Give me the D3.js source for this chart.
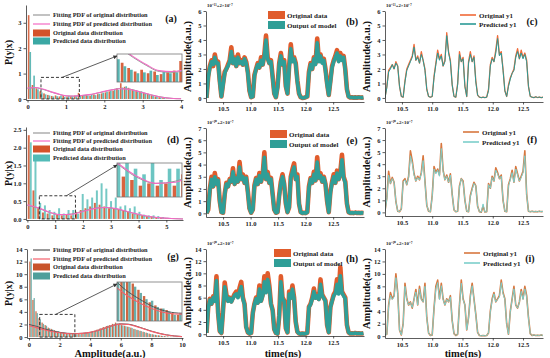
<!DOCTYPE html>
<html>
<head>
<meta charset="utf-8">
<script src="https://cdn.jsdelivr.net/npm/d3@7/dist/d3.min.js"></script>
<style>
body{margin:0;background:#fff;}
svg text{font-family:"Liberation Serif","Times New Roman",serif;font-weight:bold;}
.axis path,.axis line{stroke:#333;stroke-width:0.8;}
.axis text{font-size:6.5px;fill:#222;font-family:"Liberation Serif",serif;font-weight:bold;}
</style>
</head>
<body>
<script>
// time grids (ns)
var col2Start = 10.2, col3Start = 10.22, timeStep = 0.03;
var timeTicks = [10.5, 11.0, 11.5, 12.0, 12.5];

// (b) original data / output of model
var bOrig = [0,1.5,2.2,2.6,2.2,3.0,2.4,2.5,1.2,0.1, 1.0,1.8,2.0,2.3,2.6,3.5,2.4,2.8,2.2,3.0,
  2.4,2.6,2.3,2.8,2.5,1.8,0.5,0.05,0.1,1.6, 2.0,2.4,2.1,2.8,2.3,3.0,4.3,2.8,2.4,2.6,
  1.5,0.3,0.05,0.8,2.4,3.1,2.3,2.6,0.8,0.3, 2.2,3.7,2.6,2.8,2.4,1.2,0.3,0.05,0,0.02,
  0.05,0.1,1.8,2.4,2.0,2.8,2.4,4.1,2.6,3.0, 2.5,2.7,2.0,1.0,0.2,1.2,2.2,2.6,2.9,3.3,
  2.6,3.1,2.7,2.9,2.0,0.6,0.1,0.03,0.05,0.02, 0.04,0.02,0.05,0.03,0.02,0.04];
var bPred = [0,1.4,2.1,2.5,2.3,2.8,2.4,2.4,1.1,0.1, 0.9,1.7,2.0,2.2,2.5,3.2,2.4,2.7,2.2,2.8,
  2.4,2.5,2.3,2.7,2.4,1.7,0.5,0.05,0.1,1.5, 2.0,2.3,2.1,2.6,2.3,2.9,4.0,2.7,2.4,2.5,
  1.4,0.3,0.05,0.7,2.3,2.9,2.3,2.5,0.8,0.3, 2.1,3.4,2.5,2.7,2.3,1.1,0.3,0.05,0,0.02,
  0.05,0.1,1.7,2.3,2.0,2.7,2.3,3.8,2.5,2.9, 2.4,2.6,1.9,0.9,0.2,1.1,2.1,2.5,2.8,3.1,
  2.5,2.9,2.6,2.8,1.9,0.6,0.1,0.03,0.05,0.02, 0.04,0.02,0.05,0.03,0.02,0.04];

// (c) original y1 / predicted y1
var cOrig = [0,0.8,1.9,2.1,2.3,2.0,2.5,2.2,0.8,0.1, 0.05,1.2,2.0,2.3,2.6,2.9,3.7,2.6,2.9,2.4,
  3.2,2.6,2.0,0.6,0.1,0.05,0.1,1.5,2.4,3.3, 2.7,3.0,2.2,2.6,4.5,3.2,2.6,0.9,0.1,0.05,
  1.0,3.2,2.5,2.8,0.8,0.1,2.5,3.2,2.5,2.9, 1.2,0.2,0.05,0.02,0.05,0.02,0.05,0.6,2.3,2.8,
  2.5,3.3,4.3,3.0,3.2,2.0,0.5,0.1,0.9,1.4, 1.7,2.0,2.9,3.4,2.7,3.3,2.8,3.1,2.6,0.8,
  0.1,0.05,0.02,0.08,0.03,0.06,0.02,0.05];
var cPred = [0,0.7,1.8,2.0,2.3,2.0,2.4,2.2,0.8,0.1, 0.05,1.1,1.9,2.2,2.5,2.8,3.5,2.6,2.8,2.4,
  3.0,2.6,1.9,0.6,0.1,0.05,0.1,1.4,2.3,3.1, 2.6,2.9,2.2,2.5,4.3,3.1,2.5,0.9,0.1,0.05,
  0.9,3.0,2.5,2.7,0.8,0.1,2.4,3.0,2.5,2.8, 1.1,0.2,0.05,0.02,0.05,0.02,0.05,0.5,2.2,2.7,
  2.5,3.1,4.1,2.9,3.1,1.9,0.5,0.1,0.8,1.3, 1.7,1.9,2.8,3.2,2.7,3.1,2.7,3.0,2.5,0.8,
  0.1,0.05,0.02,0.08,0.03,0.06,0.02,0.05];

// (e)
var eOrig = [0,0.3,2.0,3.0,2.2,3.3,2.4,2.8,1.0,0.1, 0.05,1.6,2.5,2.2,2.8,2.6,3.7,2.4,3.0,2.6,
  4.2,2.8,3.2,2.5,3.0,1.8,0.4,0.05,0.3,2.3, 2.9,2.4,3.3,2.6,3.2,5.0,2.8,3.4,2.5,2.9,
  1.6,0.3,0.05,0.1,1.5,2.6,3.2,2.4,0.8,0.1, 0.5,3.0,3.6,4.1,2.8,3.2,0.8,0.1,0.02,0.05,
  0.02,0.1,2.2,2.9,2.5,3.4,2.7,4.6,2.9,3.3, 2.6,3.0,2.4,1.0,0.1,1.8,2.6,3.2,2.5,3.5,
  2.8,3.4,4.8,3.0,2.6,0.8,0.1,0.03,0.05,0.02, 0.06,0.03,0.05,0.02,0.04,0.03];
var ePred = [0,0.3,1.9,2.8,2.2,3.0,2.4,2.7,1.0,0.1, 0.05,1.5,2.4,2.2,2.7,2.6,3.4,2.4,2.9,2.6,
  3.8,2.8,3.0,2.5,2.9,1.7,0.4,0.05,0.3,2.2, 2.8,2.4,3.1,2.6,3.1,4.6,2.8,3.2,2.5,2.8,
  1.5,0.3,0.05,0.1,1.4,2.5,3.0,2.4,0.8,0.1, 0.5,2.9,3.4,3.8,2.8,3.0,0.8,0.1,0.02,0.05,
  0.02,0.1,2.1,2.8,2.5,3.2,2.7,4.2,2.9,3.1, 2.6,2.9,2.4,1.0,0.1,1.7,2.5,3.0,2.5,3.3,
  2.8,3.2,4.4,2.9,2.5,0.8,0.1,0.03,0.05,0.02, 0.06,0.03,0.05,0.02,0.04,0.03];

// (f)
var fOrig = [0.1,1.2,3.4,2.4,2.9,2.5,0.9,0.1,0.05,0.3, 2.6,2.8,2.3,3.0,5.1,4.3,3.2,2.6,3.0,2.7,
  3.3,4.7,2.6,0.6,0.1,0.05,1.4,3.8,3.3,3.6, 3.1,5.7,3.5,2.7,3.1,2.5,3.2,1.5,0.2,0.05,
  0.1,2.2,2.8,2.6,1.0,0.1,0.05,1.4,2.0,2.5, 2.2,0.5,0.05,0.02,0.5,0.03,0.05,2.4,2.0,3.0,
  2.6,3.7,3.3,2.8,3.1,1.0,0.1,0.05,2.3,2.8, 3.5,2.5,3.8,3.2,2.6,3.0,3.4,5.1,1.5,0.1,
  0.05,0.1,0.05,0.08,0.05,0.1,0.06,0.08];
var fPred = [0.1,1.1,3.1,2.4,2.8,2.5,0.9,0.1,0.05,0.3, 2.5,2.7,2.3,2.9,4.7,4.1,3.1,2.6,2.9,2.7,
  3.2,4.3,2.5,0.6,0.1,0.05,1.3,3.6,3.2,3.5, 3.0,5.3,3.4,2.7,3.0,2.5,3.1,1.5,0.2,0.05,
  0.1,2.1,2.8,2.5,1.0,0.1,0.05,1.3,1.9,2.4, 2.2,0.5,0.05,0.02,0.7,0.03,0.05,2.3,2.0,2.9,
  2.6,3.5,3.2,2.8,3.0,1.0,0.1,0.05,2.2,2.7, 3.3,2.5,3.6,3.1,2.6,2.9,3.3,4.7,1.5,0.1,
  0.05,0.1,0.05,0.08,0.05,0.1,0.06,0.08];

// (h)
var hOrig = [0.2,4.5,5.8,5.0,6.2,5.5,9.5,3.5,0.5,0.2, 4.0,8.5,6.5,5.5,6.0,5.4,6.0,6.6,7.0,6.2,
  7.6,8.6,6.0,5.0,1.2,0.3,0.1,0.2,3.5,5.0, 6.0,5.2,8.0,5.5,6.5,9.5,7.0,10.0,8.0,5.0,
  4.0,0.8,0.2,0.1,3.0,9.5,6.0,5.5,1.0,0.3, 7.0,6.0,8.0,6.0,2.0,0.4,0.1,0.05,0.1,0.05,
  0.1,0.2,4.5,5.0,6.0,7.5,6.0,6.5,5.8,9.0, 6.5,6.0,5.5,1.5,0.3,4.5,5.5,6.5,7.0,9.0,
  6.8,11.0,7.0,6.5,6.0,1.5,0.3,0.1,0.15,0.1, 0.2,0.1,0.15,0.1,0.1,0.15];
var hPred = [0.2,4.3,5.6,5.0,6.0,5.4,8.8,3.4,0.5,0.2, 3.8,7.8,6.3,5.4,5.9,5.3,5.9,6.4,6.6,6.0,
  7.0,7.8,5.8,4.9,1.2,0.3,0.1,0.2,3.4,4.9, 5.8,5.1,7.4,5.4,6.3,8.6,6.8,9.0,7.6,4.9,
  3.9,0.8,0.2,0.1,2.9,8.6,5.8,5.4,1.0,0.3, 6.6,5.9,7.4,5.8,2.0,0.4,0.1,0.05,0.1,0.05,
  0.1,0.2,4.4,4.9,5.8,7.0,5.9,6.3,5.7,8.2, 6.3,5.9,5.4,1.5,0.3,4.4,5.4,6.3,6.7,8.2,
  6.6,9.6,6.8,6.3,5.8,1.5,0.3,0.1,0.15,0.1, 0.2,0.1,0.15,0.1,0.1,0.15];

// (i)
var iOrig = [0.2,0.3,5.0,7.0,6.0,6.5,10.0,7.0,1.0,0.2, 2.0,8.5,6.0,5.0,5.5,4.5,6.0,7.5,5.0,8.0,
  6.0,5.5,8.5,3.0,0.5,0.1,0.2,4.5,8.0,9.0, 6.0,8.5,6.0,5.0,6.0,5.5,6.5,2.5,0.4,0.1,
  0.3,5.0,9.0,6.0,5.0,1.0,3.0,6.5,8.5,6.0, 3.5,0.6,0.1,0.05,0.1,0.05,0.1,0.5,4.0,6.0,
  7.0,5.5,6.0,6.5,9.0,7.0,6.0,2.0,0.3,4.0, 6.0,8.0,5.0,4.5,5.5,7.5,6.0,8.0,6.5,3.0,
  0.4,0.1,0.2,0.1,0.15,0.1,0.2,0.1];
var iPred = [0.2,0.3,4.8,6.6,5.9,6.3,9.4,6.8,1.0,0.2, 1.9,8.0,5.9,5.0,5.4,4.6,5.9,7.1,5.0,7.6,
  5.9,5.5,8.0,2.9,0.5,0.1,0.2,4.4,7.6,8.6, 5.9,8.1,5.9,5.0,5.9,5.5,6.3,2.5,0.4,0.1,
  0.3,4.9,8.5,5.9,5.0,1.0,2.9,6.3,8.1,5.9, 3.4,0.6,0.1,0.05,0.1,0.05,0.1,0.5,3.9,5.8,
  6.8,5.5,5.9,6.3,8.6,6.8,5.9,2.0,0.3,3.9, 5.9,7.6,5.0,4.5,5.4,7.2,5.9,7.6,6.3,2.9,
  0.4,0.1,0.2,0.1,0.15,0.1,0.2,0.1];

// (a) histogram, bins of 0.1
var aBin = 0.1;
var aOrig = [3.3,0.55,0.42,0.3,0.22,0.16,0.12,0.14,0.1,0.12, 0.09,0.11,0.13,0.24,0.12,0.15,0.13,0.17,0.19,0.22,
  0.26,0.3,0.33,0.42,0.62,0.48,0.44,0.38,0.34,0.28, 0.24,0.2,0.15,0.1,0.07,0.04,0.02,0.01,0.01,0];
var aPred = [1.85,0.92,0.38,0.26,0.18,0.14,0.1,0.11,0.13,0.08, 0.12,0.1,0.11,0.15,0.14,0.13,0.16,0.15,0.2,0.24,
  0.28,0.32,0.38,0.36,0.45,0.5,0.4,0.36,0.3,0.3, 0.22,0.18,0.14,0.11,0.06,0.05,0.02,0.01,0,0];
var aPdfX = [0,0.2,0.4,0.6,0.8,1.0,1.2,1.4,1.6,1.8,2.0,2.2,2.4,2.6,2.8,3.0,3.2,3.4,3.6,3.8,4.0];
var aPdfOrig = [0.42,0.44,0.38,0.28,0.19,0.12,0.11,0.13,0.16,0.22,0.29,0.36,0.41,0.4,0.34,0.25,0.17,0.1,0.05,0.02,0.01];
var aPdfPred = [0.43,0.45,0.39,0.29,0.2,0.13,0.12,0.14,0.17,0.23,0.3,0.36,0.4,0.39,0.33,0.25,0.17,0.1,0.05,0.02,0.01];

// (d) histogram, bins of 0.17
var dBin = 0.17;
var dOrig = [2.35,0.8,0.3,0.18,0.15,0.1,0.12,0.1,0.12,0.1,0.2,0.25,0.3,0.35,0.45,0.4,0.35,
  0.3,0.3,0.28,0.25,0.2,0.15,0.12,0.1,0.08,0.06,0.05,0.03,0.02,0.01,0,0];
var dPred = [2.15,1.7,0.45,0.38,0.25,0.2,0.3,0.15,0.25,0.25,0.15,0.7,0.55,0.6,0.8,1.0,0.85,
  0.5,0.6,0.35,0.38,0.3,0.35,0.2,0.12,0.1,0.1,0.08,0.05,0.03,0.02,0.01,0];
var dPdfX = [0,0.4,0.8,1.2,1.6,2.0,2.4,2.8,3.2,3.6,4.0,4.4,4.8,5.2,5.6];
var dPdfOrig = [0.38,0.3,0.18,0.12,0.14,0.22,0.3,0.32,0.28,0.2,0.12,0.06,0.03,0.01,0];
var dPdfPred = [0.4,0.31,0.19,0.12,0.13,0.21,0.29,0.32,0.29,0.21,0.13,0.07,0.03,0.01,0];

// (g) histogram, bins of 0.2
var gBin = 0.2;
var gOrig = [12.0,5.9,4.1,3.0,2.3,1.9,1.5,1.3,1.1,0.9, 0.8,0.7,0.65,0.55,0.5,0.45,0.5,0.55,0.6,0.7,
  0.8,1.0,1.2,1.4,1.6,1.75,1.9,2.1,2.3,2.0, 1.9,1.8,1.65,1.5,1.3,1.15,1.0,0.85,0.7,0.55,
  0.45,0.35,0.28,0.2,0.15,0.1,0.07,0.05,0.03,0.02];
var gPred = [12.5,6.2,3.8,2.8,2.1,1.8,1.4,1.2,1.0,0.95, 0.75,0.7,0.6,0.5,0.55,0.45,0.45,0.5,0.65,0.75,
  0.85,0.95,1.15,1.35,1.5,1.8,1.85,2.0,2.2,2.15, 1.85,1.7,1.6,1.45,1.25,1.1,0.95,0.8,0.65,0.5,
  0.4,0.3,0.25,0.18,0.12,0.08,0.06,0.04,0.02,0.01];
var gPdfX = [0,0.5,1,1.5,2,2.5,3,3.5,4,4.5,5,5.5,6,6.5,7,7.5,8,8.5,9,9.5,10];
var gPdfOrig = [2.0,1.7,1.3,1.0,0.75,0.6,0.55,0.6,0.75,1.05,1.45,1.85,2.1,2.05,1.75,1.35,0.95,0.6,0.35,0.18,0.08];
var gPdfPred = [1.8,1.5,1.15,0.88,0.68,0.55,0.52,0.58,0.75,1.05,1.45,1.85,2.05,2.0,1.7,1.3,0.9,0.58,0.33,0.17,0.07];

var histLabels = ['Fitting PDF of original distribution','Fitting PDF of predicted distribution',
  'Original data distribution','Predicted data distribution'];

var clipId = 0;
var addClip = function(svg,x0,y0,x1,y1){
    clipId++;
    svg.select('defs').append('clipPath').attr('id','clip'+clipId)
        .append('rect').attr('x',x0).attr('y',y0).attr('width',x1-x0).attr('height',y1-y0);
    return 'url(#clip'+clipId+')';
}

var drawAxes = function(svg,p,x,y){
    svg.append('g').attr('class','axis')
        .attr('transform','translate(0,'+p.bottom+')')
        .call(d3.axisBottom(x).tickValues(p.xTicks).tickSize(2.5).tickSizeOuter(0).tickPadding(2).tickFormat(p.xFmt));
    svg.append('g').attr('class','axis')
        .attr('transform','translate('+p.left+',0)')
        .call(d3.axisLeft(y).tickValues(p.yTicks).tickSize(2.5).tickSizeOuter(0).tickPadding(2).tickFormat(p.yFmt));
}

// each bin holds an orange bar (left) and a teal bar (right) with a small gap
var drawBars = function(g,x,y,vals,w,half,base,color,op){
    g.append('g').selectAll('rect').data(vals).enter().append('rect')
        .attr('x',function(d,i){return x(i*w + (half ? 0.5 : 0.08)*w);})
        .attr('width',x(w*0.42)-x(0))
        .attr('y',function(d){return y(Math.max(d,base));})
        .attr('height',function(d){return Math.max(0,y(base)-y(Math.max(d,base)));})
        .attr('fill',color).attr('opacity',op);
}

var drawPdf = function(g,x,y,p){
    var line = d3.line().curve(d3.curveMonotoneX)
        .x(function(d,i){return x(p.pdfX[i]);})
        .y(function(d){return y(d);});
    g.append('path').datum(p.pdfOrig).attr('d',line).attr('fill','none')
        .attr('stroke',p.pdfOrigColor).attr('stroke-width',1);
    g.append('path').datum(p.pdfPred).attr('d',line).attr('fill','none')
        .attr('stroke',p.pdfPredColor).attr('stroke-width',1.1);
}

var drawHist = function(svg,p){
    var x = d3.scaleLinear().domain(p.xDomain).range([p.left,p.right]);
    var y = d3.scaleLinear().domain(p.yDomain).range([p.bottom,p.top]);
    var g = svg.append('g').attr('clip-path',addClip(svg,p.left,p.top,p.right,p.bottom));
    drawBars(g,x,y,p.orig,p.bin,0,0,p.origColor,0.85);
    drawBars(g,x,y,p.pred,p.bin,1,0,p.predColor,0.8);
    drawPdf(g,x,y,p);
    drawAxes(svg,p,x,y);

    // zoom box
    var zx = p.zoomX, zy = p.zoomY;
    svg.append('rect').attr('x',x(zx[0])).attr('y',y(zy[1]))
        .attr('width',x(zx[1])-x(zx[0])).attr('height',y(zy[0])-y(zy[1]))
        .attr('fill','none').attr('stroke','#222').attr('stroke-width',0.9).attr('stroke-dasharray','3,2');

    // inset
    var ins = p.inset;
    var ix = d3.scaleLinear().domain(zx).range([ins[0],ins[2]]);
    var iy = d3.scaleLinear().domain(p.insetY).range([ins[3],ins[1]]);
    svg.append('rect').attr('x',ins[0]).attr('y',ins[1]).attr('width',ins[2]-ins[0]).attr('height',ins[3]-ins[1])
        .attr('fill','#fff');
    var ig = svg.append('g').attr('clip-path',addClip(svg,ins[0],ins[1],ins[2],ins[3]));
    drawBars(ig,ix,iy,p.orig,p.bin,0,p.insetY[0],p.origColor,0.9);
    drawBars(ig,ix,iy,p.pred,p.bin,1,p.insetY[0],p.predColor,0.85);
    drawPdf(ig,ix,iy,p);
    svg.append('rect').attr('x',ins[0]).attr('y',ins[1]).attr('width',ins[2]-ins[0]).attr('height',ins[3]-ins[1])
        .attr('fill','none').attr('stroke','#777').attr('stroke-width',0.8);

    // arrow
    svg.append('line')
        .attr('x1',x(zx[0]+(zx[1]-zx[0])*p.arrowFrom)).attr('y1',y(zy[1]))
        .attr('x2',ins[0]).attr('y2',ins[1]+2)
        .attr('stroke','#333').attr('stroke-width',0.8).attr('marker-end','url(#arrow)');

    // legend
    var lg = svg.append('g');
    histLabels.forEach(function(lab,i){
        var yy = p.legendY[i];
        if(i<2){
            lg.append('line').attr('x1',33).attr('x2',50).attr('y1',yy).attr('y2',yy)
                .attr('stroke',i==0?p.pdfOrigColor:p.pdfPredColor).attr('stroke-width',1.2);
        } else {
            lg.append('rect').attr('x',33).attr('y',yy-3.5).attr('width',17).attr('height',7)
                .attr('fill',i==2?p.origColor:p.predColor);
        }
        lg.append('text').attr('x',53).attr('y',yy+2.2).attr('font-size',6.3).attr('fill','#222').text(lab);
    });
    svg.append('text').attr('x',p.tagX).attr('y',p.tagY).attr('text-anchor','middle')
        .attr('font-size',10).attr('font-weight','normal').attr('fill','#111').text(p.tag);
    svg.append('text').attr('transform','translate(12,'+((p.top+p.bottom)/2)+') rotate(-90)')
        .attr('text-anchor','middle').attr('font-size',10).attr('fill','#111').text('P(y|x)');
}

var drawTime = function(svg,p){
    var x = d3.scaleLinear().domain(p.xDomain).range([p.left,p.right]);
    var y = d3.scaleLinear().domain(p.yDomain).range([p.bottom,p.top]);
    var line = d3.line()
        .x(function(d,i){return x(p.start + i*timeStep);})
        .y(function(d){return y(d);});
    var g = svg.append('g').attr('clip-path',addClip(svg,p.left,p.top-4,p.right,p.bottom));
    g.append('path').datum(p.orig).attr('d',line).attr('fill','none')
        .attr('stroke',p.origColor).attr('stroke-width',p.origWidth).attr('stroke-linejoin','round');
    g.append('path').datum(p.pred).attr('d',line).attr('fill','none')
        .attr('stroke',p.predColor).attr('stroke-width',p.predWidth).attr('stroke-linejoin','round');
    drawAxes(svg,p,x,y);

    svg.append('text').attr('x',p.left+1).attr('y',p.top-4).attr('font-size',4.8).attr('fill','#222')
        .text(p.note);
    var lg = svg.append('g');
    p.labels.forEach(function(lab,i){
        var yy = p.legendY[i];
        var c = i==0?p.origColor:p.predColor;
        if(p.swatch=='rect'){
            lg.append('rect').attr('x',p.legendX).attr('y',yy-4).attr('width',17).attr('height',8).attr('fill',c);
        } else {
            lg.append('line').attr('x1',p.legendX).attr('x2',p.legendX+16).attr('y1',yy).attr('y2',yy)
                .attr('stroke',c).attr('stroke-width',1.6);
        }
        lg.append('text').attr('x',p.legendX+19).attr('y',yy+2.5).attr('font-size',7).attr('fill','#222').text(lab);
    });
    svg.append('text').attr('x',p.tagX).attr('y',p.tagY).attr('text-anchor','middle')
        .attr('font-size',10).attr('font-weight','normal').attr('fill','#111').text(p.tag);
    svg.append('text').attr('transform','translate('+(p.left-15)+','+((p.top+p.bottom)/2)+') rotate(-90)')
        .attr('text-anchor','middle').attr('font-size',10.5).attr('fill','#111').text('Amplitude(a.u.)');
}

var loadGraph = function(){
    var svg = d3.select('body').append('svg').attr('width',550).attr('height',358);
    svg.append('defs').append('marker').attr('id','arrow').attr('viewBox','0 0 10 10')
        .attr('refX',9).attr('refY',5).attr('markerWidth',5).attr('markerHeight',5).attr('orient','auto')
        .append('path').attr('d','M0,0L10,5L0,10z').attr('fill','#333');

    var intFmt = d3.format('d'), oneFmt = d3.format('.1f');
    var pinkPdf = '#f36ac4';

    drawHist(svg,{left:26,right:183,top:5,bottom:100,xDomain:[-0.04,4.05],yDomain:[-0.04,3.7],
        xTicks:[0,1,2,3,4],yTicks:[0,1,2,3],xFmt:intFmt,yFmt:intFmt,
        orig:aOrig,pred:aPred,bin:aBin,origColor:'#d4522a',predColor:'#3ba8a4',
        pdfX:aPdfX,pdfOrig:aPdfOrig,pdfPred:aPdfPred,pdfOrigColor:'#999',pdfPredColor:pinkPdf,
        zoomX:[0.35,1.35],zoomY:[0,0.85],inset:[117,54,182,82],insetY:[0,0.32],arrowFrom:0.55,
        legendY:[15,24,33,41],tag:'(a)',tagX:171,tagY:22});
    drawHist(svg,{left:26,right:183,top:127,bottom:220,xDomain:[-0.05,5.6],yDomain:[-0.03,2.58],
        xTicks:[0,1,2,3,4,5],yTicks:[0,0.5,1,1.5,2,2.5],xFmt:intFmt,yFmt:oneFmt,
        orig:dOrig,pred:dPred,bin:dBin,origColor:'#d4522a',predColor:'#52bbb7',
        pdfX:dPdfX,pdfOrig:dPdfOrig,pdfPred:dPdfPred,pdfOrigColor:'#999',pdfPredColor:pinkPdf,
        zoomX:[0.43,1.73],zoomY:[0,0.65],inset:[117,163,182,197],insetY:[0,0.3],arrowFrom:0.75,
        legendY:[133,141,149,158],tag:'(d)',tagX:173,tagY:143});
    drawHist(svg,{left:27,right:183,top:249,bottom:338,xDomain:[-0.13,10.07],yDomain:[-0.15,14],
        xTicks:[0,2,4,6,8,10],yTicks:[0,2,4,6,8,10,12,14],xFmt:intFmt,yFmt:intFmt,
        orig:gOrig,pred:gPred,bin:gBin,origColor:'#c9552c',predColor:'#4f9f9b',
        pdfX:gPdfX,pdfOrig:gPdfOrig,pdfPred:gPdfPred,pdfOrigColor:'#555',pdfPredColor:'#f4606c',
        zoomX:[0.7,3.0],zoomY:[0,3.6],inset:[117,282,182,321],insetY:[0.3,1.55],arrowFrom:0.45,
        legendY:[250,259,267,276],tag:'(g)',tagX:173,tagY:260});

    var col2 = [10.19,13.06], col3 = [10.22,12.83];
    var rectLabels = ['Original data','Output of model'], lineLabels = ['Original y1','Predicted y1'];
    var note11 = '10\u207B\u00B9\u00B9+2\u00D710\u207B\u2077', note10 = '10\u207B\u00B9\u2070+2\u00D710\u207B\u2077';

    drawTime(svg,{left:206,right:364,top:11,bottom:102,xDomain:col2,yDomain:[-0.28,6],
        xTicks:timeTicks,yTicks:[0,1,2,3,4,5,6],xFmt:oneFmt,yFmt:intFmt,start:col2Start,
        orig:bOrig,pred:bPred,origColor:'#e05c2c',predColor:'#2f9e97',origWidth:4.6,predWidth:3.6,
        note:note11,labels:rectLabels,swatch:'rect',legendX:268,legendY:[15,25],tag:'(b)',tagX:352,tagY:25});
    drawTime(svg,{left:385,right:543,top:11,bottom:102,xDomain:col3,yDomain:[-0.28,6],
        xTicks:timeTicks,yTicks:[0,1,2,3,4,5,6],xFmt:oneFmt,yFmt:intFmt,start:col3Start,
        orig:cOrig,pred:cPred,origColor:'#f06a38',predColor:'#2a9a96',origWidth:1.3,predWidth:1,
        note:note11,labels:lineLabels,swatch:'line',legendX:460,legendY:[15,24],tag:'(c)',tagX:532,tagY:25});
    drawTime(svg,{left:206,right:364,top:128,bottom:217,xDomain:col2,yDomain:[-0.3,7],
        xTicks:timeTicks,yTicks:[0,1,2,3,4,5,6,7],xFmt:oneFmt,yFmt:intFmt,start:col2Start,
        orig:eOrig,pred:ePred,origColor:'#e05c2c',predColor:'#2f9e97',origWidth:4.6,predWidth:3.6,
        note:note10,labels:rectLabels,swatch:'rect',legendX:270,legendY:[134,144],tag:'(e)',tagX:352,tagY:144});
    drawTime(svg,{left:385,right:543,top:128,bottom:216,xDomain:col3,yDomain:[-0.3,7],
        xTicks:timeTicks,yTicks:[0,1,2,3,4,5,6,7],xFmt:oneFmt,yFmt:intFmt,start:col3Start,
        orig:fOrig,pred:fPred,origColor:'#d8773f',predColor:'#7ccfcb',origWidth:1.6,predWidth:1,
        note:note10,labels:lineLabels,swatch:'line',legendX:463,legendY:[132,142],tag:'(f)',tagX:532,tagY:143});
    drawTime(svg,{left:206,right:364,top:249,bottom:336,xDomain:col2,yDomain:[-0.3,14],
        xTicks:timeTicks,yTicks:[0,2,4,6,8,10,12,14],xFmt:oneFmt,yFmt:intFmt,start:col2Start,
        orig:hOrig,pred:hPred,origColor:'#e05c2c',predColor:'#2f9e97',origWidth:4.6,predWidth:3.6,
        note:note10,labels:rectLabels,swatch:'rect',legendX:274,legendY:[253,263],tag:'(h)',tagX:352,tagY:262});
    drawTime(svg,{left:385,right:543,top:249,bottom:338,xDomain:col3,yDomain:[-0.3,14],
        xTicks:timeTicks,yTicks:[0,2,4,6,8,10,12,14],xFmt:oneFmt,yFmt:intFmt,start:col3Start,
        orig:iOrig,pred:iPred,origColor:'#d8773f',predColor:'#7ccfcb',origWidth:1.6,predWidth:1,
        note:note10,labels:lineLabels,swatch:'line',legendX:464,legendY:[253,263],tag:'(i)',tagX:530,tagY:262});

    // bottom axis titles
    svg.append('text').attr('x',110).attr('y',357).attr('text-anchor','middle').attr('font-size',10.5)
        .attr('fill','#111').text('Amplitude(a.u.)');
    svg.append('text').attr('x',283).attr('y',357).attr('text-anchor','middle').attr('font-size',10.5)
        .attr('fill','#111').text('time(ns)');
    svg.append('text').attr('x',463).attr('y',357).attr('text-anchor','middle').attr('font-size',10.5)
        .attr('fill','#111').text('time(ns)');
}

window.onload = loadGraph;
</script>
</body>
</html>
